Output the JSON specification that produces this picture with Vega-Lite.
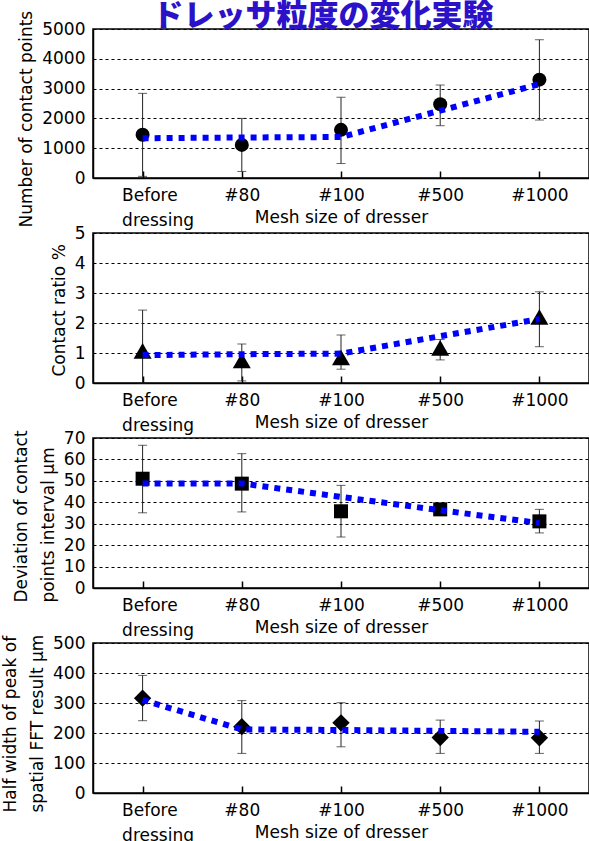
{
  "$schema": "https://vega.github.io/schema/vega-lite/v6.json",
  "background": "#ffffff",
  "padding": {"left": 0, "top": 0, "right": 0, "bottom": 0},
  "title": {
    "text": "ドレッサ粒度の変化実験",
    "font": "Noto Sans CJK JP",
    "fontSize": 31,
    "fontWeight": 900,
    "color": "#2b12c9",
    "anchor": "middle",
    "frame": "group",
    "baseline": "bottom",
    "offset": -54,
    "dx": -18
  },
  "datasets": {
    "contact": [
      {"mesh": "Before dressing", "value": 1450, "lo": 55, "hi": 2840, "fit": 1335},
      {"mesh": "#80", "value": 1110, "lo": 220, "hi": 2000, "fit": 1360},
      {"mesh": "#100", "value": 1615, "lo": 485, "hi": 2710, "fit": 1375},
      {"mesh": "#500", "value": 2475, "lo": 1755, "hi": 3120, "fit": 2260},
      {"mesh": "#1000", "value": 3300, "lo": 1945, "hi": 4640, "fit": 3150}
    ],
    "ratio": [
      {"mesh": "Before dressing", "value": 1.07, "lo": 0, "hi": 2.43, "fit": 0.93},
      {"mesh": "#80", "value": 0.75, "lo": 0.07, "hi": 1.3, "fit": 0.96},
      {"mesh": "#100", "value": 0.85, "lo": 0.46, "hi": 1.6, "fit": 0.98},
      {"mesh": "#500", "value": 1.17, "lo": 0.77, "hi": 1.45, "fit": 1.56},
      {"mesh": "#1000", "value": 2.2, "lo": 1.21, "hi": 3.04, "fit": 2.13}
    ],
    "deviation": [
      {"mesh": "Before dressing", "value": 51.0, "lo": 35.1, "hi": 66.6, "fit": 48.8},
      {"mesh": "#80", "value": 48.7, "lo": 35.5, "hi": 62.7, "fit": 48.8},
      {"mesh": "#100", "value": 35.8, "lo": 23.8, "hi": 47.9, "fit": 42.5},
      {"mesh": "#500", "value": 36.7, "lo": 34.5, "hi": 39.0, "fit": 36.3},
      {"mesh": "#1000", "value": 31.1, "lo": 25.7, "hi": 36.7, "fit": 30.3}
    ],
    "halfwidth": [
      {"mesh": "Before dressing", "value": 316, "lo": 241, "hi": 392, "fit": 310},
      {"mesh": "#80", "value": 221, "lo": 132, "hi": 308, "fit": 212},
      {"mesh": "#100", "value": 234, "lo": 154, "hi": 301, "fit": 210},
      {"mesh": "#500", "value": 185, "lo": 132, "hi": 243, "fit": 207},
      {"mesh": "#1000", "value": 184, "lo": 132, "hi": 240, "fit": 204}
    ]
  },
  "config": {
    "font": "DejaVu Sans",
    "view": {"stroke": "#000000", "strokeWidth": 1.5},
    "axis": {
      "labelFont": "DejaVu Sans",
      "labelFontSize": 17,
      "labelColor": "#000000",
      "titleFont": "DejaVu Sans",
      "titleFontSize": 17,
      "titleFontWeight": "normal",
      "titleColor": "#000000",
      "domainColor": "#000000",
      "domainWidth": 1.5
    },
    "axisY": {
      "grid": true,
      "gridColor": "#000000",
      "gridDash": [3, 3],
      "gridWidth": 1,
      "ticks": false,
      "labelPadding": 8,
      "titlePadding": 6,
      "titleAlign": "left",
      "titleLineHeight": 27,
      "format": "d"
    },
    "axisX": {
      "grid": false,
      "tickSize": -7,
      "tickColor": "#000000",
      "tickWidth": 1.5,
      "labelPadding": 16,
      "labelLineHeight": 25,
      "labelAngle": 0
    }
  },
  "spacing": 55,
  "bounds": "flush",
  "vconcat": [
    {
      "width": 496,
      "height": 149,
      "data": {"name": "contact"},
      "encoding": {
        "x": {
          "field": "mesh",
          "type": "ordinal",
          "scale": {"type": "point", "padding": 0.5, "domain": ["Before dressing", "#80", "#100", "#500", "#1000"]},
          "axis": {
            "title": "Mesh size of dresser",
            "titleY": 31,
            "labelExpr": "datum.value === 'Before dressing' ? ['Before', 'dressing'] : datum.label",
            "labelAlign": {"condition": {"test": "datum.value === 'Before dressing'", "value": "left"}, "value": "center"},
            "labelOffset": {"condition": {"test": "datum.value === 'Before dressing'", "value": -21}, "value": 0}
          }
        }
      },
      "layer": [
        {
          "mark": {"type": "rule", "color": "#222222", "strokeWidth": 1},
          "encoding": {
            "y": {
              "field": "lo",
              "type": "quantitative",
              "scale": {"domain": [0, 5000], "nice": false},
              "axis": {"title": "Number of contact points", "values": [0, 1000, 2000, 3000, 4000, 5000], "titleY": 198}
            },
            "y2": {"field": "hi"}
          }
        },
        {
          "mark": {"type": "tick", "color": "#222222", "thickness": 1, "size": 9},
          "encoding": {"y": {"field": "lo", "type": "quantitative", "axis": {"title": "Number of contact points", "values": [0, 1000, 2000, 3000, 4000, 5000], "titleY": 198}}}
        },
        {
          "mark": {"type": "tick", "color": "#222222", "thickness": 1, "size": 9},
          "encoding": {"y": {"field": "hi", "type": "quantitative", "axis": {"title": "Number of contact points", "values": [0, 1000, 2000, 3000, 4000, 5000], "titleY": 198}}}
        },
        {
          "mark": {"type": "point", "shape": "circle", "filled": true, "color": "#000000", "opacity": 1, "size": 196},
          "encoding": {"y": {"field": "value", "type": "quantitative", "axis": {"title": "Number of contact points", "values": [0, 1000, 2000, 3000, 4000, 5000], "titleY": 198}}}
        },
        {
          "mark": {"type": "line", "color": "#0000ff", "strokeWidth": 6, "strokeDash": [6, 6], "strokeCap": "butt"},
          "encoding": {"y": {"field": "fit", "type": "quantitative", "axis": {"title": "Number of contact points", "values": [0, 1000, 2000, 3000, 4000, 5000], "titleY": 198}}}
        }
      ]
    },
    {
      "width": 496,
      "height": 150,
      "data": {"name": "ratio"},
      "encoding": {
        "x": {
          "field": "mesh",
          "type": "ordinal",
          "scale": {"type": "point", "padding": 0.5, "domain": ["Before dressing", "#80", "#100", "#500", "#1000"]},
          "axis": {
            "title": "Mesh size of dresser",
            "titleY": 31,
            "labelExpr": "datum.value === 'Before dressing' ? ['Before', 'dressing'] : datum.label",
            "labelAlign": {"condition": {"test": "datum.value === 'Before dressing'", "value": "left"}, "value": "center"},
            "labelOffset": {"condition": {"test": "datum.value === 'Before dressing'", "value": -21}, "value": 0}
          }
        }
      },
      "layer": [
        {
          "mark": {"type": "rule", "color": "#222222", "strokeWidth": 1},
          "encoding": {
            "y": {
              "field": "lo",
              "type": "quantitative",
              "scale": {"domain": [0, 5], "nice": false},
              "axis": {"title": "Contact ratio %", "values": [0, 1, 2, 3, 4, 5], "titleY": 143}
            },
            "y2": {"field": "hi"}
          }
        },
        {
          "mark": {"type": "tick", "color": "#222222", "thickness": 1, "size": 9},
          "encoding": {"y": {"field": "lo", "type": "quantitative", "axis": {"title": "Contact ratio %", "values": [0, 1, 2, 3, 4, 5], "titleY": 143}}}
        },
        {
          "mark": {"type": "tick", "color": "#222222", "thickness": 1, "size": 9},
          "encoding": {"y": {"field": "hi", "type": "quantitative", "axis": {"title": "Contact ratio %", "values": [0, 1, 2, 3, 4, 5], "titleY": 143}}}
        },
        {
          "mark": {"type": "point", "shape": "triangle-up", "filled": true, "color": "#000000", "opacity": 1, "size": 324},
          "encoding": {"y": {"field": "value", "type": "quantitative", "axis": {"title": "Contact ratio %", "values": [0, 1, 2, 3, 4, 5], "titleY": 143}}}
        },
        {
          "mark": {"type": "line", "color": "#0000ff", "strokeWidth": 6, "strokeDash": [6, 6], "strokeCap": "butt"},
          "encoding": {"y": {"field": "fit", "type": "quantitative", "axis": {"title": "Contact ratio %", "values": [0, 1, 2, 3, 4, 5], "titleY": 143}}}
        }
      ]
    },
    {
      "width": 496,
      "height": 150,
      "data": {"name": "deviation"},
      "encoding": {
        "x": {
          "field": "mesh",
          "type": "ordinal",
          "scale": {"type": "point", "padding": 0.5, "domain": ["Before dressing", "#80", "#100", "#500", "#1000"]},
          "axis": {
            "title": "Mesh size of dresser",
            "titleY": 31,
            "labelExpr": "datum.value === 'Before dressing' ? ['Before', 'dressing'] : datum.label",
            "labelAlign": {"condition": {"test": "datum.value === 'Before dressing'", "value": "left"}, "value": "center"},
            "labelOffset": {"condition": {"test": "datum.value === 'Before dressing'", "value": -21}, "value": 0}
          }
        }
      },
      "layer": [
        {
          "mark": {"type": "rule", "color": "#222222", "strokeWidth": 1},
          "encoding": {
            "y": {
              "field": "lo",
              "type": "quantitative",
              "scale": {"domain": [0, 70], "nice": false},
              "axis": {"title": ["Deviation of contact", "points interval µm"], "values": [0, 10, 20, 30, 40, 50, 60, 70], "titleY": 164}
            },
            "y2": {"field": "hi"}
          }
        },
        {
          "mark": {"type": "tick", "color": "#222222", "thickness": 1, "size": 9},
          "encoding": {"y": {"field": "lo", "type": "quantitative", "axis": {"title": ["Deviation of contact", "points interval µm"], "values": [0, 10, 20, 30, 40, 50, 60, 70], "titleY": 164}}}
        },
        {
          "mark": {"type": "tick", "color": "#222222", "thickness": 1, "size": 9},
          "encoding": {"y": {"field": "hi", "type": "quantitative", "axis": {"title": ["Deviation of contact", "points interval µm"], "values": [0, 10, 20, 30, 40, 50, 60, 70], "titleY": 164}}}
        },
        {
          "mark": {"type": "point", "shape": "square", "filled": true, "color": "#000000", "opacity": 1, "size": 196},
          "encoding": {"y": {"field": "value", "type": "quantitative", "axis": {"title": ["Deviation of contact", "points interval µm"], "values": [0, 10, 20, 30, 40, 50, 60, 70], "titleY": 164}}}
        },
        {
          "mark": {"type": "line", "color": "#0000ff", "strokeWidth": 6, "strokeDash": [6, 6], "strokeCap": "butt"},
          "encoding": {"y": {"field": "fit", "type": "quantitative", "axis": {"title": ["Deviation of contact", "points interval µm"], "values": [0, 10, 20, 30, 40, 50, 60, 70], "titleY": 164}}}
        }
      ]
    },
    {
      "width": 496,
      "height": 150,
      "data": {"name": "halfwidth"},
      "encoding": {
        "x": {
          "field": "mesh",
          "type": "ordinal",
          "scale": {"type": "point", "padding": 0.5, "domain": ["Before dressing", "#80", "#100", "#500", "#1000"]},
          "axis": {
            "title": "Mesh size of dresser",
            "titleY": 31,
            "labelExpr": "datum.value === 'Before dressing' ? ['Before', 'dressing'] : datum.label",
            "labelAlign": {"condition": {"test": "datum.value === 'Before dressing'", "value": "left"}, "value": "center"},
            "labelOffset": {"condition": {"test": "datum.value === 'Before dressing'", "value": -21}, "value": 0}
          }
        }
      },
      "layer": [
        {
          "mark": {"type": "rule", "color": "#222222", "strokeWidth": 1},
          "encoding": {
            "y": {
              "field": "lo",
              "type": "quantitative",
              "scale": {"domain": [0, 500], "nice": false},
              "axis": {"title": ["Half width of peak of", "spatial FFT result  µm"], "values": [0, 100, 200, 300, 400, 500], "titleY": 169}
            },
            "y2": {"field": "hi"}
          }
        },
        {
          "mark": {"type": "tick", "color": "#222222", "thickness": 1, "size": 9},
          "encoding": {"y": {"field": "lo", "type": "quantitative", "axis": {"title": ["Half width of peak of", "spatial FFT result  µm"], "values": [0, 100, 200, 300, 400, 500], "titleY": 169}}}
        },
        {
          "mark": {"type": "tick", "color": "#222222", "thickness": 1, "size": 9},
          "encoding": {"y": {"field": "hi", "type": "quantitative", "axis": {"title": ["Half width of peak of", "spatial FFT result  µm"], "values": [0, 100, 200, 300, 400, 500], "titleY": 169}}}
        },
        {
          "mark": {"type": "point", "shape": "diamond", "filled": true, "color": "#000000", "opacity": 1, "size": 300},
          "encoding": {"y": {"field": "value", "type": "quantitative", "axis": {"title": ["Half width of peak of", "spatial FFT result  µm"], "values": [0, 100, 200, 300, 400, 500], "titleY": 169}}}
        },
        {
          "mark": {"type": "line", "color": "#0000ff", "strokeWidth": 6, "strokeDash": [6, 6], "strokeCap": "butt"},
          "encoding": {"y": {"field": "fit", "type": "quantitative", "axis": {"title": ["Half width of peak of", "spatial FFT result  µm"], "values": [0, 100, 200, 300, 400, 500], "titleY": 169}}}
        }
      ]
    }
  ]
}
